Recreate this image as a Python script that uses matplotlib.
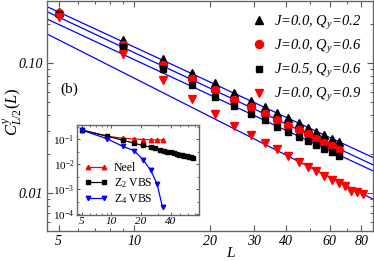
import numpy as np
import matplotlib
matplotlib.use('Agg')
import matplotlib.pyplot as plt
from matplotlib.ticker import FixedLocator, FuncFormatter, NullFormatter

plt.rcParams['font.family'] = ['Liberation Serif', 'DejaVu Serif']
plt.rcParams['mathtext.fontset'] = 'custom'
plt.rcParams['mathtext.rm'] = 'Liberation Serif'
plt.rcParams['mathtext.it'] = 'Liberation Serif:italic'
plt.rcParams['mathtext.bf'] = 'Liberation Serif:bold'

# ---------------- main panel data ----------------
L_main = [5, 9, 13, 17, 21, 25, 29, 33, 37, 41, 45, 49, 53, 57, 61, 65]
L_q09 = [5, 9, 13, 17, 21, 25, 29, 33, 37, 41, 45, 49, 53, 57, 61, 65, 69, 73, 77, 81]
c_j00_q02 = [0.248, 0.150, 0.108, 0.0848, 0.0699, 0.0591, 0.0514, 0.0459, 0.0414, 0.0377,
             0.0348, 0.0320, 0.0298, 0.0279, 0.0263, 0.0249]
c_j00_q06 = [0.242, 0.139, 0.0977, 0.0762, 0.0620, 0.0526, 0.0459, 0.0410, 0.0366, 0.0331,
             0.0305, 0.0284, 0.0263, 0.0245, 0.0231, 0.0217]
c_j05_q06 = [0.238, 0.133, 0.0900, 0.0680, 0.0554, 0.0467, 0.0409, 0.0364, 0.0325, 0.0296,
             0.0272, 0.0253, 0.0235, 0.0219, 0.0207, 0.0195]
c_j00_q09 = [0.228, 0.117, 0.0740, 0.0528, 0.0407, 0.0330, 0.0281, 0.0245, 0.0218, 0.0194,
             0.0174, 0.0160, 0.0148, 0.0137, 0.0127, 0.0119, 0.0113, 0.0104, 0.0103, 0.0098]
series_labels = [r'J=0.0, $Q_y$=0.2', r'J=0.0, $Q_y$=0.6',
                 r'J=0.5, $Q_y$=0.6', r'J=0.0, $Q_y$=0.9']
# power-law fits: value at L=10 and decay exponent
fit_amp_at10 = [0.1333, 0.1207, 0.1066, 0.0768]
fit_exponent = [0.895, 0.909, 0.901, 0.98]

x_ticks = [5, 10, 20, 30, 40, 60, 80]
y_ticks = [0.01, 0.10]

# ---------------- inset data ----------------
L_neel = [5, 9, 13, 17, 21, 25, 29, 33]
c_neel = [0.22, 0.125, 0.105, 0.097, 0.093, 0.091, 0.090, 0.089]
L_z2 = [5, 9, 13, 17, 21, 25, 28, 31, 34, 37, 40, 43, 46, 49, 52, 55, 58, 61, 64, 67]
c_z2 = [0.22, 0.128, 0.087, 0.066, 0.054, 0.046, 0.041, 0.037, 0.034, 0.031,
        0.029, 0.027, 0.025, 0.0236, 0.0222, 0.021, 0.020, 0.019, 0.0182, 0.0174]
L_z4 = [5, 9, 13, 17, 21, 25, 29, 33]
c_z4 = [0.22, 0.100, 0.050, 0.0334, 0.0147, 0.0056, 0.00164, 0.00019]
inset_labels = ['Neel', r'Z$_2$ VBS', r'Z$_4$ VBS']
inset_x_ticks = [5, 10, 20, 40]


def italicize(axis_obj):
    for lab in axis_obj.get_xticklabels() + axis_obj.get_yticklabels():
        lab.set_fontstyle('italic')


fig = plt.figure(figsize=(3.74, 2.61), dpi=100)
ax = fig.add_axes([47/374, 1 - 231/261, (373-47)/374, (231-1)/261])

xlim = (4.5, 89)
ylim = (0.00513, 0.301)

Lfit = np.geomspace(xlim[0], xlim[1], 100)
for a, b in zip(fit_amp_at10, fit_exponent):
    ax.plot(Lfit, a * (Lfit / 10.0) ** (-b), color='#0000ff', lw=0.9, zorder=1)

ms = 5.2
h1, = ax.plot(L_main, c_j00_q02, '^', color='black', ms=ms, ls='none', zorder=3)
h2, = ax.plot(L_main, c_j00_q06, 'o', color='#ff0000', ms=ms + 0.6, ls='none', zorder=3)
h3, = ax.plot(L_main, c_j05_q06, 's', color='black', ms=ms - 0.6, ls='none', zorder=3)
h4, = ax.plot(L_q09, c_j00_q09, 'v', color='#ff0000', ms=ms, ls='none', zorder=3)

ax.set_xscale('log')
ax.set_yscale('log')
ax.set_xlim(*xlim)
ax.set_ylim(*ylim)

ax.xaxis.set_major_locator(FixedLocator(x_ticks))
ax.xaxis.set_minor_locator(FixedLocator([6, 7, 8, 9, 50, 70]))
ax.xaxis.set_major_formatter(FuncFormatter(lambda v, p: '%d' % round(v)))
ax.xaxis.set_minor_formatter(NullFormatter())
ax.yaxis.set_major_locator(FixedLocator(y_ticks))
ax.yaxis.set_minor_locator(FixedLocator([0.006, 0.007, 0.008, 0.009, 0.02, 0.03, 0.04, 0.05,
                                         0.06, 0.07, 0.08, 0.09, 0.2, 0.3]))
ax.yaxis.set_major_formatter(FuncFormatter(lambda v, p: '%.2f' % v))
ax.yaxis.set_minor_formatter(NullFormatter())
ax.tick_params(which='both', direction='in', top=True, right=True, labelsize=10, color='#555555')
ax.tick_params(which='major', length=4, width=0.8, pad=3)
ax.tick_params(which='minor', length=2.5, width=0.7)
italicize(ax)
for s in ax.spines.values():
    s.set_color('#666666')
    s.set_linewidth(1.0)

ax.set_xlabel('L', fontsize=11, fontstyle='italic')
ax.xaxis.set_label_coords((230 - 47) / 326, -0.068)
ax.set_ylabel(r'$C^{y}_{L/2}(L)$', fontsize=12)
ax.yaxis.set_label_coords(-0.07, 0.52)
ax.text((60 - 47) / 326, 1 - (89 - 1) / 230, '(b)', fontsize=11, ha='left', va='center',
        transform=ax.transAxes)

leg = ax.legend([h1, h2, h3, h4], series_labels, loc='upper right', frameon=False,
                prop={'size': 10.5, 'style': 'italic'}, handlelength=0.8, handletextpad=0.6,
                labelspacing=0.42, borderaxespad=0.3, bbox_to_anchor=(0.995, 0.99))

# ---------------- inset ----------------
ax2 = fig.add_axes([77.3/374, 1 - 214.5/261, (199.3-77.3)/374, (214.5-124.7)/261])
ims = 3.2
g1, = ax2.plot(L_neel, c_neel, '-^', color='#ff0000', ms=ims, lw=0.9)
g2, = ax2.plot(L_z2, c_z2, '-s', color='black', ms=ims - 0.3, lw=0.9)
g3, = ax2.plot(L_z4, c_z4, '-v', color='#0000ff', ms=ims, lw=0.9)
ax2.set_xscale('log')
ax2.set_yscale('log')
ax2.set_xlim(4.5, 78)
ax2.set_ylim(9.8e-5, 0.36)
ax2.xaxis.set_major_locator(FixedLocator(inset_x_ticks))
ax2.xaxis.set_minor_locator(FixedLocator([6, 7, 8, 9, 30, 50, 60, 70]))
ax2.xaxis.set_major_formatter(FuncFormatter(lambda v, p: '%d' % round(v)))
ax2.xaxis.set_minor_formatter(NullFormatter())
ax2.yaxis.set_major_locator(FixedLocator([1e-4, 1e-3, 1e-2, 1e-1]))
ax2.yaxis.set_minor_locator(FixedLocator([3e-4, 3e-3, 3e-2, 3e-1]))
ax2.yaxis.set_major_formatter(FuncFormatter(lambda v, p: r'$\mathit{10^{%d}}$' % round(np.log10(v))))
ax2.yaxis.set_minor_formatter(NullFormatter())
ax2.tick_params(which='both', direction='in', top=True, right=True, labelsize=8, color='#555555', pad=2)
ax2.tick_params(which='major', length=2.5, width=0.7)
ax2.tick_params(which='minor', length=1.5, width=0.6)
italicize(ax2)
for s in ax2.spines.values():
    s.set_color('#666666')
    s.set_linewidth(1.0)
ax2.legend([g1, g2, g3], inset_labels, loc='lower left', frameon=False, fontsize=8.5,
           numpoints=2, handlelength=2.0, handletextpad=0.5, labelspacing=0.15,
           borderaxespad=0.2, bbox_to_anchor=(0.0, 0.02))

fig.savefig('out.png', dpi=100)
